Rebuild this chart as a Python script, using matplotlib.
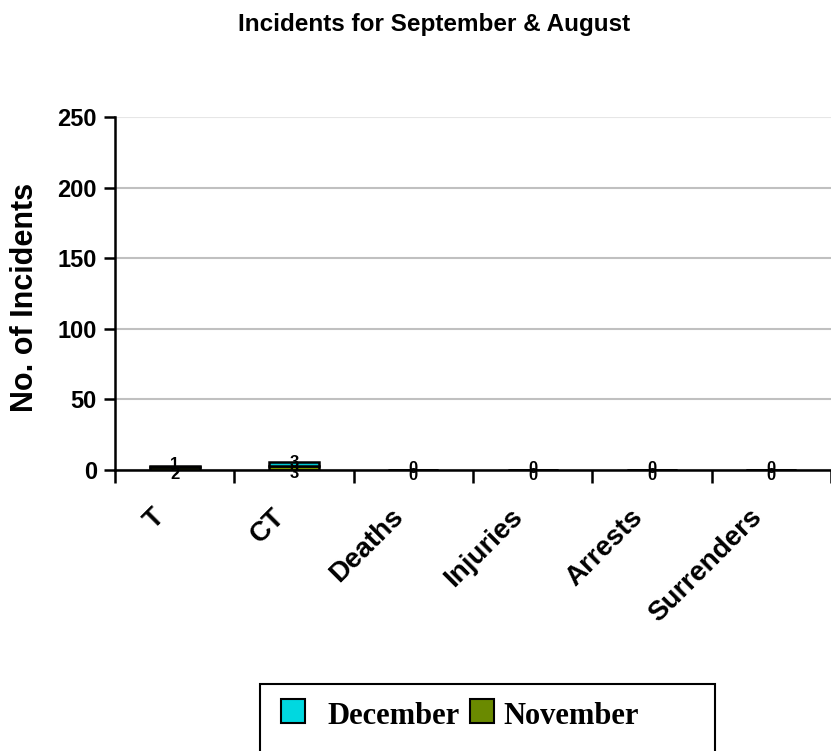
import matplotlib.pyplot as plt
import numpy as np
from matplotlib.patches import Rectangle

categories = ["T", "CT", "Deaths", "Injuries", "Arrests", "Surrenders"]
november = [2, 3, 0, 0, 0, 0]
december = [1, 3, 0, 0, 0, 0]

plt.rcParams['font.family'] = ['Liberation Sans', 'DejaVu Sans']

fig = plt.figure(figsize=(8.31, 7.51), dpi=100)
ax = fig.add_axes([115 / 831, 1 - 470 / 751, 716 / 831, 353 / 751])

x = np.arange(len(categories))
w = 0.42
ax.bar(x, november, w, color="#7a9a00", edgecolor="black", lw=1.8, zorder=3)
ax.bar(x, december, w, bottom=november, color="#00c8d0", edgecolor="black", lw=1.8, zorder=3)

# data labels, both series crowd around the axis line
for i in range(len(categories)):
    ax.annotate(str(november[i]), (x[i], november[i] / 2), xytext=(0, -4),
                textcoords="offset points", ha="center", va="center",
                fontsize=12, fontweight="bold", zorder=6)
    ax.annotate(str(december[i]), (x[i], november[i] + december[i] / 2), xytext=(0, 1.1),
                textcoords="offset points", ha="center", va="center",
                fontsize=12, fontweight="bold", zorder=6)

ax.set_xlim(-0.5, len(categories) - 0.5)
ax.set_ylim(0, 250)
ax.set_yticks(range(0, 251, 50))
ax.tick_params(axis="y", labelsize=17, width=1.8, length=8, pad=5)
for lab in ax.get_yticklabels():
    lab.set_fontweight("bold")

ax.set_xticks(np.arange(len(categories) + 1) - 0.5)
ax.set_xticklabels([])
ax.tick_params(axis="x", width=1.8, length=9)
for i, c in enumerate(categories):
    ax.text(x[i] - 0.19, -24, c, rotation=45, ha="right", va="top",
            rotation_mode="anchor", fontsize=20, fontweight="bold")

ax.grid(axis="y", color="#c0c0c0", lw=1.5, zorder=0)
ax.get_ygridlines()[-1].set_color("#e6e6e6")
for s in ["top", "right"]:
    ax.spines[s].set_visible(False)
ax.spines["left"].set_linewidth(1.8)
ax.spines["bottom"].set_linewidth(1.8)
ax.spines["bottom"].set_zorder(5)

fig.text(25 / 831, 1 - 297 / 751, "No. of Incidents", rotation=90, ha="center",
         va="center", fontsize=22, fontweight="bold")
fig.text(434 / 831, 1 - 25 / 751, "Incidents for September & August", ha="center",
         va="center", fontsize=17.5, fontweight="bold")

# legend box
fig.patches.append(Rectangle((260 / 831, -0.01), 455 / 831, (751 - 684) / 751 + 0.01,
                             transform=fig.transFigure, fill=False, ec="black", lw=1.5))
fig.patches.append(Rectangle((281 / 831, 1 - 723 / 751), 24 / 831, 24 / 751,
                             transform=fig.transFigure, fc="#00d8e0", ec="black", lw=1.5))
fig.patches.append(Rectangle((470 / 831, 1 - 723 / 751), 24 / 831, 24 / 751,
                             transform=fig.transFigure, fc="#6a8a00", ec="black", lw=1.5))
fig.text(327 / 831, 1 - 716 / 751, "December", fontsize=22, fontweight="bold",
         family="Liberation Serif", va="center")
fig.text(503 / 831, 1 - 716 / 751, "November", fontsize=22, fontweight="bold",
         family="Liberation Serif", va="center")

fig.savefig("out.png", dpi=100)
